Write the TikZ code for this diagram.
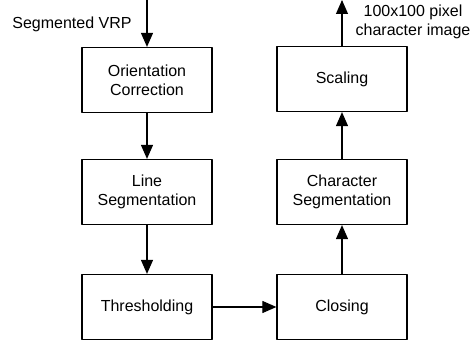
\documentclass[tikz,border=0pt]{standalone}
\usepackage{fontspec}
\setmainfont{Liberation Sans}
\usetikzlibrary{arrows.meta}
\begin{document}
\begin{tikzpicture}[x=1pt, y=-1pt, line join=round,
	box/.style={draw, line width=1.2pt, minimum width=130pt, minimum height=65pt, align=center, inner sep=0pt, font=\fontsize{16}{19}\selectfont},
	flow/.style={line width=1.1pt, -{Triangle[length=14pt,width=12pt]}},
	lbl/.style={align=center, font=\fontsize{16}{19}\selectfont}]
			\useasboundingbox (0,0) rectangle (475,345);
			\coordinate (in) at (147,0);
			\coordinate (out) at (342,0);
			\node[box] (orient) at (147,80) {Orientation\\Correction};
			\node[box] (lineseg) at (147,192) {Line\\Segmentation};
			\node[box] (thresh) at (147,307) {Thresholding};
			\node[box] (closing) at (342,307) {Closing};
			\node[box] (charseg) at (342,192) {Character\\Segmentation};
			\node[box] (scaling) at (342,79) {Scaling};
			\node[lbl] (vrp) at (72,24) {Segmented VRP};
			\node[lbl] (image) at (413,22) {100x100 pixel\\character image};
			\draw[flow] (in) -- (orient);
			\draw[flow] (orient) -- (lineseg);
			\draw[flow] (lineseg) -- (thresh);
			\draw[flow] (thresh) -- (closing);
			\draw[flow] (closing) -- (charseg);
			\draw[flow] (charseg) -- (scaling);
			\draw[flow] (scaling) -- (out);
			\end{tikzpicture}
\end{document}
